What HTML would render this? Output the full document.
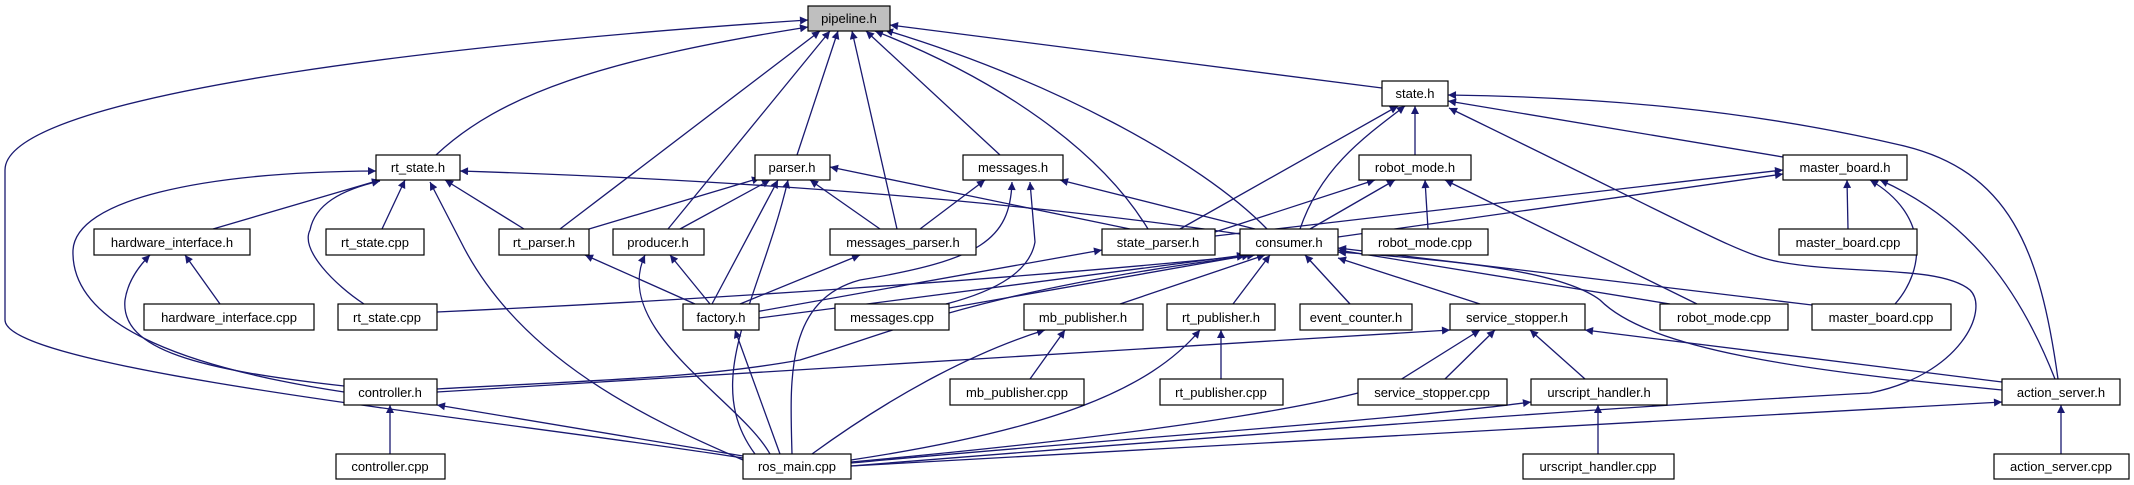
<!DOCTYPE html>
<html><head><meta charset="utf-8"><style>
html,body{margin:0;padding:0;background:#fff;}
svg{display:block;}
text{font-family:"Liberation Sans",sans-serif;font-size:13px;fill:#000;}
.e{fill:none;stroke:#191970;stroke-width:1.3;}
rect{fill:#fff;stroke:#000;stroke-width:1.2;}
</style></head><body>
<svg width="2134" height="485" viewBox="0 0 2134 485" xmlns="http://www.w3.org/2000/svg">
<defs><marker id="a" viewBox="0 0 10 10" refX="10" refY="5" markerWidth="10" markerHeight="8" markerUnits="userSpaceOnUse" orient="auto"><path d="M0,0 L10,5 L0,10 z" fill="#191970"/></marker></defs>
<g class="e" marker-end="url(#a)">
<path d="M743,458 C500,420 5,370 5,320 L5,170 C5,90 500,40 808,20"/>
<path d="M436,155 C500,95 600,60 808,27"/>
<path d="M560,229 L820,31"/>
<path d="M668,229 L830,31"/>
<path d="M797,155 L838,31"/>
<path d="M897,229 L852,31"/>
<path d="M1000,155 L866,31"/>
<path d="M1148,229 C1100,150 1000,80 875,31"/>
<path d="M1267,229 C1200,160 1050,80 885,30"/>
<path d="M1382,88 L890,25"/>
<path d="M1415,155 L1415,106"/>
<path d="M1783,157 L1448,101"/>
<path d="M1180,229 L1398,106"/>
<path d="M1300,229 C1320,170 1360,140 1405,106"/>
<path d="M2058,379 C2040,250 2010,170 1900,145 C1750,110 1600,97 1448,95"/>
<path d="M851,466 C1300,430 1650,405 1870,393 C1960,375 1990,310 1970,290 C1940,265 1850,275 1780,262 C1740,255 1700,230 1449,108"/>
<path d="M213,229 L380,180"/>
<path d="M382,229 L405,180"/>
<path d="M364,304 C335,285 300,250 310,230 C315,205 340,190 380,181"/>
<path d="M524,229 L445,180"/>
<path d="M344,392 C200,370 70,330 73,250 C76,200 200,172 376,171"/>
<path d="M743,460 C650,420 520,360 461,242 L430,182"/>
<path d="M1240,234 Q900,185 460,171"/>
<path d="M589,229 L760,178"/>
<path d="M680,229 L770,180"/>
<path d="M712,304 L778,180"/>
<path d="M755,454 C700,380 760,300 788,180"/>
<path d="M880,229 L810,180"/>
<path d="M1130,229 L830,167"/>
<path d="M920,229 L985,180"/>
<path d="M1255,229 L1060,180"/>
<path d="M946,304 C1000,290 1030,270 1035,242 L1030,182"/>
<path d="M792,454 C790,380 785,300 860,280 C980,260 1010,240 1012,182"/>
<path d="M1215,232 L1375,180"/>
<path d="M1310,229 L1395,180"/>
<path d="M1428,229 L1425,180"/>
<path d="M1697,304 L1445,180"/>
<path d="M1848,229 L1847,180"/>
<path d="M1215,236 L1783,170"/>
<path d="M1338,237 L1783,174"/>
<path d="M1895,304 C1925,270 1930,215 1870,180"/>
<path d="M2055,379 C2020,290 1970,220 1880,180"/>
<path d="M220,304 L185,255"/>
<path d="M344,386 C200,370 120,350 125,300 C128,280 140,265 150,255"/>
<path d="M695,304 L585,255"/>
<path d="M710,304 L670,255"/>
<path d="M770,454 C740,400 610,330 645,255"/>
<path d="M740,304 L860,255"/>
<path d="M755,312 L1102,250"/>
<path d="M759,318 L1245,255"/>
<path d="M949,308 L1250,255"/>
<path d="M437,312 C700,300 1000,280 1245,256"/>
<path d="M437,389 C600,380 700,378 800,360 C900,330 980,290 1255,255"/>
<path d="M437,392 L1450,330"/>
<path d="M1120,304 L1265,255"/>
<path d="M1233,304 L1270,255"/>
<path d="M1350,304 L1305,255"/>
<path d="M1480,304 L1338,258"/>
<path d="M1670,304 L1338,250"/>
<path d="M1812,305 L1338,248"/>
<path d="M2002,390 C1800,370 1650,350 1600,300 C1560,270 1450,260 1338,252"/>
<path d="M780,454 L735,330"/>
<path d="M1030,379 L1065,330"/>
<path d="M812,454 C900,390 980,350 1045,330"/>
<path d="M1221,379 L1221,330"/>
<path d="M851,460 C1050,430 1150,390 1200,330"/>
<path d="M1445,379 L1495,330"/>
<path d="M1585,379 L1530,330"/>
<path d="M2002,382 L1585,330"/>
<path d="M851,462 C1200,430 1350,400 1400,380 L1480,330"/>
<path d="M390,454 L390,405"/>
<path d="M743,456 L437,405"/>
<path d="M1598,454 L1598,405"/>
<path d="M851,463 C1100,440 1400,420 1531,402"/>
<path d="M2061,454 L2061,405"/>
<path d="M851,466 C1300,440 1700,420 2002,402"/>
</g>
<g>
<rect x="808" y="6" width="82" height="25" style="fill:#bfbfbf"/><text x="849" y="23" text-anchor="middle">pipeline.h</text>
<rect x="1382" y="81" width="66" height="25"/><text x="1415" y="98" text-anchor="middle">state.h</text>
<rect x="376" y="155" width="84" height="25"/><text x="418" y="172" text-anchor="middle">rt_state.h</text>
<rect x="755" y="155" width="75" height="25"/><text x="792" y="172" text-anchor="middle">parser.h</text>
<rect x="963" y="155" width="100" height="25"/><text x="1013" y="172" text-anchor="middle">messages.h</text>
<rect x="1359" y="155" width="112" height="25"/><text x="1415" y="172" text-anchor="middle">robot_mode.h</text>
<rect x="1783" y="155" width="124" height="25"/><text x="1845" y="172" text-anchor="middle">master_board.h</text>
<rect x="94" y="229" width="156" height="26"/><text x="172" y="247" text-anchor="middle">hardware_interface.h</text>
<rect x="326" y="229" width="98" height="26"/><text x="375" y="247" text-anchor="middle">rt_state.cpp</text>
<rect x="499" y="229" width="90" height="26"/><text x="544" y="247" text-anchor="middle">rt_parser.h</text>
<rect x="613" y="229" width="91" height="26"/><text x="658" y="247" text-anchor="middle">producer.h</text>
<rect x="830" y="229" width="146" height="26"/><text x="903" y="247" text-anchor="middle">messages_parser.h</text>
<rect x="1102" y="229" width="113" height="26"/><text x="1158" y="247" text-anchor="middle">state_parser.h</text>
<rect x="1240" y="229" width="98" height="26"/><text x="1289" y="247" text-anchor="middle">consumer.h</text>
<rect x="1362" y="229" width="126" height="26"/><text x="1425" y="247" text-anchor="middle">robot_mode.cpp</text>
<rect x="1779" y="229" width="138" height="26"/><text x="1848" y="247" text-anchor="middle">master_board.cpp</text>
<rect x="144" y="304" width="170" height="26"/><text x="229" y="322" text-anchor="middle">hardware_interface.cpp</text>
<rect x="338" y="304" width="99" height="26"/><text x="387" y="322" text-anchor="middle">rt_state.cpp</text>
<rect x="683" y="304" width="76" height="26"/><text x="721" y="322" text-anchor="middle">factory.h</text>
<rect x="835" y="304" width="114" height="26"/><text x="892" y="322" text-anchor="middle">messages.cpp</text>
<rect x="1024" y="304" width="119" height="26"/><text x="1083" y="322" text-anchor="middle">mb_publisher.h</text>
<rect x="1167" y="304" width="108" height="26"/><text x="1221" y="322" text-anchor="middle">rt_publisher.h</text>
<rect x="1300" y="304" width="112" height="26"/><text x="1356" y="322" text-anchor="middle">event_counter.h</text>
<rect x="1450" y="304" width="135" height="26"/><text x="1517" y="322" text-anchor="middle">service_stopper.h</text>
<rect x="1660" y="304" width="128" height="26"/><text x="1724" y="322" text-anchor="middle">robot_mode.cpp</text>
<rect x="1812" y="304" width="139" height="26"/><text x="1881" y="322" text-anchor="middle">master_board.cpp</text>
<rect x="344" y="379" width="93" height="26"/><text x="390" y="397" text-anchor="middle">controller.h</text>
<rect x="950" y="379" width="134" height="26"/><text x="1017" y="397" text-anchor="middle">mb_publisher.cpp</text>
<rect x="1160" y="379" width="123" height="26"/><text x="1221" y="397" text-anchor="middle">rt_publisher.cpp</text>
<rect x="1358" y="379" width="149" height="26"/><text x="1432" y="397" text-anchor="middle">service_stopper.cpp</text>
<rect x="1531" y="379" width="136" height="26"/><text x="1599" y="397" text-anchor="middle">urscript_handler.h</text>
<rect x="2002" y="379" width="118" height="26"/><text x="2061" y="397" text-anchor="middle">action_server.h</text>
<rect x="336" y="454" width="109" height="25"/><text x="390" y="471" text-anchor="middle">controller.cpp</text>
<rect x="743" y="454" width="108" height="25"/><text x="797" y="471" text-anchor="middle">ros_main.cpp</text>
<rect x="1523" y="454" width="151" height="25"/><text x="1598" y="471" text-anchor="middle">urscript_handler.cpp</text>
<rect x="1994" y="454" width="135" height="25"/><text x="2061" y="471" text-anchor="middle">action_server.cpp</text>
</g>
</svg>
</body></html>
